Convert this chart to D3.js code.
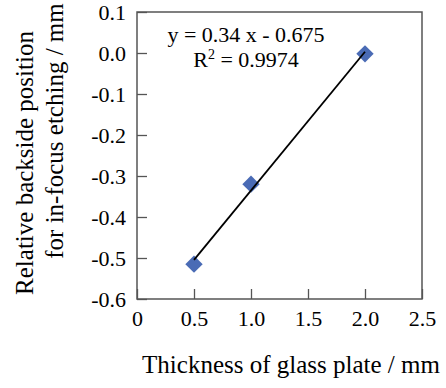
<!DOCTYPE html>
<html>
<head>
<meta charset="utf-8">
<script src="https://cdn.jsdelivr.net/npm/d3@7"></script>
<style>
    html, body { margin: 0; padding: 0; background: #fff; }
    svg text { font-family: "Liberation Serif", "Times New Roman", serif; fill: #000; }
</style>
</head>
<body>
<div id="chart"></div>
<script>
// measured points
const thickness = [0.5, 1.0, 2.0];
const backside = [-0.515, -0.32, -0.002];
const xTicks = [0, 0.5, 1.0, 1.5, 2.0, 2.5];
const yTicks = [0.1, 0.0, -0.1, -0.2, -0.3, -0.4, -0.5, -0.6];
const equationText = "y = 0.34 x - 0.675";
const r2Value = "0.9974";

const width = 446, height = 388;
const margin = { top: 12, right: 24, bottom: 89, left: 137 };
const plotW = width - margin.left - margin.right,
    plotH = height - margin.top - margin.bottom;

const svg = d3.select("#chart")
    .append("svg")
    .attr("width", width)
    .attr("height", height);

const g = svg.append("g")
    .attr("transform", `translate(${margin.left},${margin.top})`);

const xScale = d3.scaleLinear().domain([0, 2.5]).range([0, plotW]);
const yScale = d3.scaleLinear().domain([-0.6, 0.1]).range([plotH, 0]);

const fontsize = 22, titleSize = 25;
const frameColor = "#555";

// axes, ticks pointing inward
const axisX = d3.axisBottom(xScale)
    .tickValues(xTicks)
    .tickSize(-10)
    .tickPadding(11)
    .tickFormat(d => d === 0 ? "0" : d3.format(".1f")(d));

const axisY = d3.axisLeft(yScale)
    .tickValues(yTicks)
    .tickSize(-10)
    .tickPadding(11)
    .tickFormat(d3.format(".1f"));

const gx = g.append("g")
    .attr("transform", `translate(0,${plotH})`)
    .call(axisX);
const gy = g.append("g").call(axisY);

[gx, gy].forEach(a => {
    a.select(".domain").remove();
    a.selectAll(".tick line").attr("stroke", frameColor).attr("stroke-width", 1.3);
    a.selectAll(".tick text")
        .attr("font-size", fontsize)
        .attr("font-family", "Liberation Serif");
});
// y labels use a plain hyphen like the original
gy.selectAll(".tick text").text(d => d3.format(".1f")(d).replace("−", "-"));

// frame
g.append("rect")
    .attr("x", 0)
    .attr("y", 0)
    .attr("width", plotW)
    .attr("height", plotH)
    .attr("fill", "none")
    .attr("stroke", frameColor)
    .attr("stroke-width", 1.5);

// points
const points = thickness.map((t, i) => ({ x: t, y: backside[i] }));
g.append("g")
    .selectAll("path")
    .data(points)
    .enter().append("path")
    .attr("transform", d => `translate(${xScale(d.x)},${yScale(d.y)}) rotate(45)`)
    .attr("d", d3.symbol().type(d3.symbolSquare).size(150))
    .attr("fill", "#4a6bb5");

// least squares trend line
const mx = d3.mean(points, d => d.x), my = d3.mean(points, d => d.y);
const slope = d3.sum(points, d => (d.x - mx) * (d.y - my)) / d3.sum(points, d => (d.x - mx) ** 2);
const intercept = my - slope * mx;
const [x0, x1] = d3.extent(thickness);
g.append("line")
    .attr("x1", xScale(x0))
    .attr("y1", yScale(slope * x0 + intercept))
    .attr("x2", xScale(x1))
    .attr("y2", yScale(slope * x1 + intercept))
    .attr("stroke", "#000")
    .attr("stroke-width", 1.8);

// equation
svg.append("text")
    .attr("x", 246)
    .attr("y", 42)
    .attr("text-anchor", "middle")
    .attr("font-size", fontsize)
    .text(equationText);
const r2 = svg.append("text")
    .attr("x", 246)
    .attr("y", 67)
    .attr("text-anchor", "middle")
    .attr("font-size", fontsize);
r2.append("tspan").text("R");
r2.append("tspan").attr("font-size", 14).attr("dy", -8).text("2");
r2.append("tspan").attr("dy", 8).text(" = " + r2Value);

// axis titles
svg.append("text")
    .attr("x", 291)
    .attr("y", 373)
    .attr("text-anchor", "middle")
    .attr("font-size", titleSize)
    .text("Thickness of glass plate / mm");

svg.append("text")
    .attr("transform", "translate(33,163) rotate(-90)")
    .attr("text-anchor", "middle")
    .attr("font-size", titleSize)
    .text("Relative backside position");
svg.append("text")
    .attr("transform", "translate(63,131) rotate(-90)")
    .attr("text-anchor", "middle")
    .attr("font-size", titleSize)
    .text("for in-focus etching / mm");
</script>
</body>
</html>
